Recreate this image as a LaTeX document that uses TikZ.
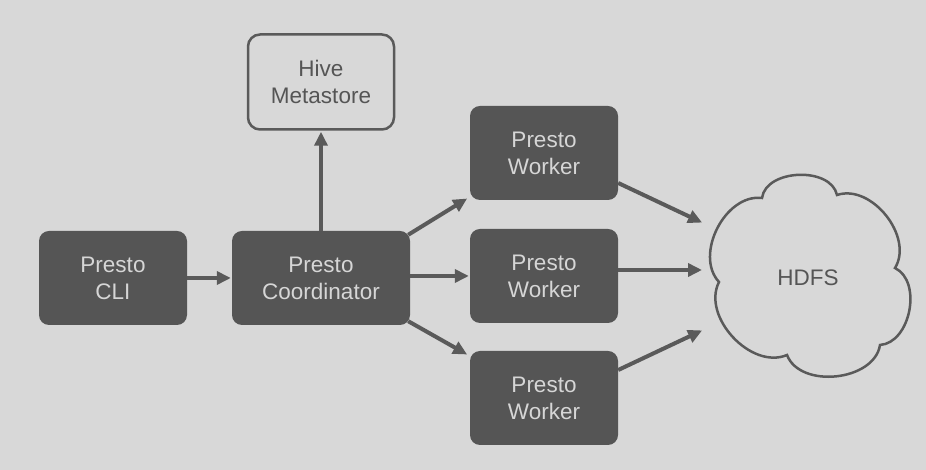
\documentclass[tikz,border=0pt]{standalone}
\usepackage{fontspec}
\setmainfont{Liberation Sans}
\usetikzlibrary{arrows.meta}
\definecolor{bg}{RGB}{216,216,216}
\definecolor{boxc}{RGB}{85,85,85}
\definecolor{boxtext}{RGB}{214,214,214}
\definecolor{linec}{RGB}{90,90,90}
\tikzset{
  dark/.style={draw=none, fill=boxc, rounded corners=10pt, minimum width=148pt, minimum height=94pt,
    align=center, text=boxtext, font=\fontsize{22.5}{27}\selectfont, inner sep=0pt},
  lightbox/.style={draw=linec, line width=2.5pt, fill=bg, rounded corners=12pt, minimum width=146pt, minimum height=95pt,
    align=center, text=boxc, font=\fontsize{22.5}{27}\selectfont, inner sep=0pt},
  arr/.style={draw=linec, line width=4pt, -{Triangle[length=14pt,width=13pt]}, shorten >=1pt},
  cloudline/.style={draw=linec, line width=2.5pt, fill=bg}
}
\begin{document}
\begin{tikzpicture}[x=1pt,y=1pt]
\fill[bg] (0,0) rectangle (926,470);
\useasboundingbox (0,0) rectangle (926,470);
\node[dark] (cli) at (113,192) {Presto\\CLI};
\node[dark, minimum width=178pt] (coord) at (321,192) {Presto\\Coordinator};
\node[lightbox] (hive) at (321,388) {Hive\\Metastore};
\node[dark] (w1) at (544,317) {Presto\\Worker};
\node[dark] (w2) at (544,194) {Presto\\Worker};
\node[dark] (w3) at (544,72) {Presto\\Worker};
% cloud
\coordinate (cA) at (719,188);
\coordinate (cB) at (762,272);
\coordinate (cC) at (837,275);
\coordinate (cD) at (895,202);
\coordinate (cE) at (880,125);
\coordinate (cF) at (787,115);
\draw[cloudline] (cA) to[bend left=70] (cB) to[bend left=80] (cC) to[bend left=70] (cD)
  to[bend left=75] (cE) to[bend left=75] (cF) to[bend left=70] cycle;
\node[text=boxc, font=\fontsize{22.5}{27}\selectfont] (hdfs) at (808,192) {HDFS};
\coordinate (h1) at (703,247);
\coordinate (h2) at (703,200);
\coordinate (h3) at (703,140);
% arrows
\draw[arr] (cli.east) -- (coord.west);
\draw[arr] (coord.north) -- (hive.south);
\draw[arr] (coord.north east) ++(-2,-4) -- (468,272);
\draw[arr] (coord.east) ++(0,2) -- (w2.west |- 0,194);
\draw[arr] (coord.south east) ++(-2,4) -- (468,115);
\draw[arr] (w1.east) ++(0,-30) -- (h1);
\draw[arr] (w2.east) ++(0,6) -- (h2);
\draw[arr] (w3.east) ++(0,28) -- (h3);
\end{tikzpicture}
\end{document}
